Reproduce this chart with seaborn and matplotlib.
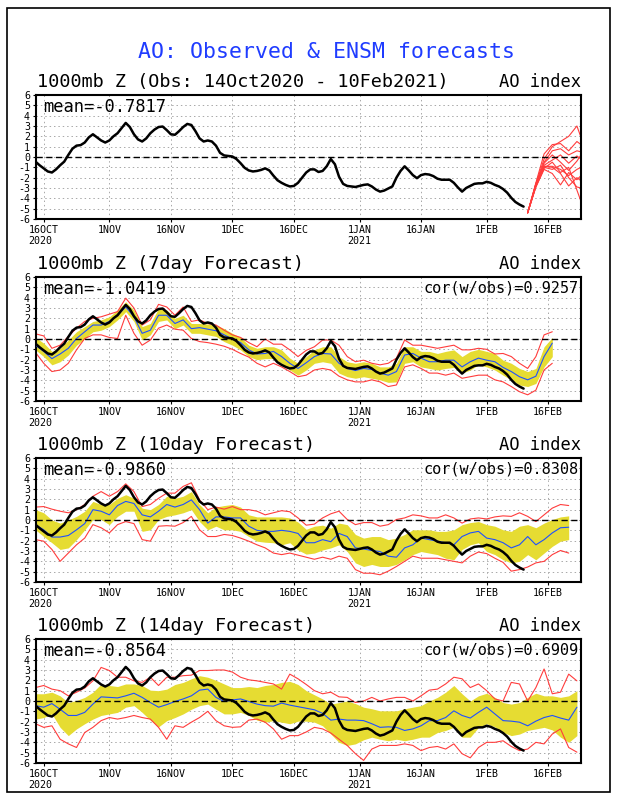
import numpy as np
import pandas as pd
import seaborn as sns
import matplotlib.pyplot as plt
from matplotlib.patches import Rectangle

# day 0 of every series is 14 Oct 2020
start = pd.Timestamp("2020-10-14")

# observed AO index, daily, 14Oct2020 - 10Feb2021
obs = [-0.45, -0.8, -1.1, -1.4, -1.5, -1.2, -0.8, -0.45, 0.2, 0.8,
       1.1, 1.15, 1.4, 1.9, 2.2, 1.9, 1.6, 1.4, 1.6, 2.0,
       2.3, 2.8, 3.3, 2.9, 2.2, 1.7, 1.5, 1.8, 2.3, 2.65,
       2.9, 2.95, 2.6, 2.2, 2.15, 2.5, 2.9, 3.2, 3.1, 2.5,
       1.8, 1.5, 1.6, 1.5, 1.1, 0.4, 0.15, 0.1, 0.05, -0.2,
       -0.6, -1.05, -1.3, -1.4, -1.35, -1.25, -1.1, -1.3, -1.8, -2.25,
       -2.5, -2.7, -2.85, -2.8, -2.5, -2.0, -1.5, -1.2, -1.2, -1.45,
       -1.35, -0.9, -0.2, -0.7, -1.9, -2.6, -2.8, -2.85, -2.9, -2.8,
       -2.7, -2.65, -2.85, -3.15, -3.35, -3.25, -3.05, -2.85, -2.0, -1.35,
       -0.9, -1.3, -1.75, -2.05, -1.75, -1.65, -1.7, -1.85, -2.1, -2.2,
       -2.2, -2.2, -2.5, -2.95, -3.35, -3.0, -2.8, -2.6, -2.55, -2.55,
       -2.4, -2.5, -2.7, -2.85, -3.1, -3.45, -3.95, -4.35, -4.6, -4.8]

# ensemble members after the last observation (top panel)
ens_days = [120, 122, 124, 126, 128, 130, 132, 133]
ens_members = [
    [-5.4, -2.6, -0.2, 1.0, 1.5, 2.0, 3.0, 1.9],
    [-5.4, -2.5, 0.3, 1.2, 1.3, 0.6, 1.5, 1.2],
    [-5.4, -2.7, -0.5, 0.6, 0.8, 0.2, 0.6, 0.5],
    [-5.4, -2.8, -0.8, -0.3, 0.2, -0.6, 0.1, -0.2],
    [-5.4, -2.6, -0.9, -0.9, -1.2, -1.8, -1.2, -1.0],
    [-5.4, -2.9, -1.2, -1.6, -2.7, -1.5, -2.2, -1.8],
    [-5.4, -2.7, -0.9, -1.0, -1.6, -2.8, -2.0, -2.3],
    [-5.4, -2.8, -1.0, -1.2, -0.8, -2.0, -2.9, -3.0],
    [-5.4, -2.9, -1.1, -0.5, -1.5, -1.0, -3.2, -4.3],
    [-5.4, -2.6, -0.6, 0.2, -0.5, -1.3, -0.4, 0.2],
]

# forecasts, every 2 days from 14 Oct: ensemble mean, spread band, min/max
fc7_mean = [-0.6, -1.2, -1.9, -1.45, -0.9, 0.05, 0.7, 1.35, 1.35, 1.7,
            2.3, 3.1, 2.15, 0.55, 0.85, 2.3, 2.3, 1.5, 1.85, 1.0,
            1.1, 0.95, 0.8, 0.4, 0.0, -0.35, -1.05, -1.45, -1.4, -1.2,
            -1.7, -2.35, -2.85, -2.3, -1.7, -1.4, -1.45, -2.35, -2.85, -3.05,
            -2.85, -2.95, -3.3, -3.5, -3.15, -1.55, -1.4, -1.85, -2.2, -2.2,
            -2.05, -2.05, -2.7, -2.2, -1.85, -2.05, -2.2, -2.75, -3.15, -3.65,
            -3.95, -3.6, -1.7, -0.4]
fc7_hi = [0.15, -0.4, -1.2, -0.9, -0.1, 0.7, 1.2, 1.7, 1.85, 2.15,
          2.8, 3.6, 2.8, 1.2, 1.5, 2.95, 2.8, 2.0, 2.3, 1.5,
          1.5, 1.45, 1.35, 1.0, 0.55, 0.15, -0.6, -0.9, -0.75, -0.75,
          -1.05, -1.85, -2.35, -1.7, -1.05, -0.75, -0.75, -1.7, -2.2, -2.35,
          -2.2, -2.35, -2.7, -2.7, -2.35, -0.75, -0.75, -1.2, -1.2, -1.4,
          -1.2, -1.05, -1.7, -1.2, -1.0, -1.2, -1.4, -2.05, -2.35, -2.85,
          -3.15, -2.85, -0.75, 0.15]
fc7_lo = [-1.05, -1.7, -2.5, -2.2, -1.55, -0.6, 0.05, 0.7, 0.85, 1.2,
          1.85, 2.65, 1.7, -0.1, 0.4, 1.7, 1.85, 1.0, 1.35, 0.55,
          0.55, 0.4, 0.25, -0.25, -0.6, -1.05, -1.7, -2.0, -1.9, -1.9,
          -2.35, -3.0, -3.5, -3.0, -2.35, -2.2, -2.35, -3.3, -3.65, -3.8,
          -3.65, -3.8, -3.95, -4.2, -4.15, -2.35, -2.2, -2.7, -2.85, -3.0,
          -2.85, -2.75, -3.3, -3.0, -2.5, -2.7, -3.0, -3.5, -3.95, -4.45,
          -4.6, -4.3, -2.7, -1.7]
fc7_max = [0.5, 0.3, -0.9, -0.6, 0.25, 1.05, 1.7, 2.0, 2.15, 2.4,
           2.65, 3.95, 3.0, 1.35, 1.85, 3.35, 3.1, 2.3, 3.1, 1.7,
           1.85, 1.5, 1.35, 0.85, 0.4, 0.15, -0.35, -0.75, 0.0, -0.5,
           -0.5, -1.05, -1.7, -1.1, -0.75, -0.1, -0.1, -0.6, -1.7, -2.2,
           -2.05, -2.35, -2.5, -2.35, -1.85, -0.1, -0.6, -0.6, -0.75, -0.9,
           -0.75, -0.6, -1.05, -1.05, -0.9, -1.0, -1.45, -1.4, -1.7, -2.35,
           -2.85, -1.7, 0.4, 0.7]
fc7_min = [-1.3, -2.35, -3.15, -3.0, -2.35, -1.05, 0.05, 0.4, 0.4, 0.15,
           0.05, 2.3, 0.55, -0.6, -0.1, 1.05, 1.35, 0.95, 0.85, 0.05,
           -0.25, -0.35, -0.5, -0.7, -1.0, -1.4, -1.75, -2.35, -2.7, -2.35,
           -2.7, -3.15, -3.65, -3.5, -3.0, -2.85, -3.0, -3.6, -3.95, -4.15,
           -4.15, -3.95, -4.15, -4.6, -4.45, -2.7, -2.5, -2.85, -3.3, -3.3,
           -3.5, -3.3, -3.8, -3.65, -3.5, -3.5, -3.95, -4.15, -4.6, -5.1,
           -5.4, -4.95, -3.0, -2.35]

fc10_mean = [-0.45, -0.95, -1.65, -1.65, -1.5, -0.95, -0.35, 1.0, 0.85, 0.5,
             1.4, 1.8, 1.6, 0.5, 0.3, 0.85, 1.5, 1.25, 1.5, 1.95,
             1.0, -0.3, 0.3, 0.3, 0.2, 0.2, -0.6, -1.0, -1.1, -1.1,
             -1.0, -1.1, -1.3, -2.2, -2.2, -1.9, -2.1, -1.3, -1.6, -2.7,
             -2.8, -2.95, -3.05, -3.5, -3.6, -2.7, -2.4, -1.75, -1.9, -2.05,
             -2.2, -2.4, -1.6, -1.25, -1.1, -1.75, -1.9, -2.2, -2.7, -2.4,
             -1.6, -2.4, -1.9, -1.25, -0.75, -0.7]
fc10_hi = [1.0, 0.7, 0.0, -0.3, 0.0, 0.35, 0.85, 1.8, 1.5, 1.5,
           2.1, 2.45, 2.1, 1.15, 1.0, 1.5, 2.3, 2.1, 2.3, 2.75,
           1.5, 0.7, 1.25, 1.4, 1.5, 1.25, 0.5, 0.3, 0.3, 0.3,
           0.3, 0.2, -0.2, -0.9, -0.6, -0.5, -0.8, -0.3, -0.45, -1.4,
           -1.75, -1.6, -1.6, -1.9, -1.75, -1.4, -0.95, -0.95, -0.95, -1.1,
           -1.1, -0.95, -0.45, -0.25, -0.15, -0.45, -0.6, -0.95, -1.1, -0.6,
           -0.45, -0.75, -0.3, 0.05, 0.3, 0.4]
fc10_lo = [-0.95, -1.6, -2.2, -2.85, -2.7, -1.9, -0.95, 0.05, 0.05, -0.45,
           0.35, 0.85, 0.85, -1.1, -0.95, 0.05, 0.35, 0.5, 0.7, 1.0,
           -0.15, -0.95, -0.6, -0.95, -0.95, -1.1, -1.6, -2.05, -2.15, -2.2,
           -2.4, -2.2, -2.9, -3.3, -3.2, -2.9, -2.7, -2.4, -3.05, -4.15,
           -4.5, -4.3, -4.5, -4.5, -4.3, -3.85, -3.35, -3.05, -3.2, -3.35,
           -3.7, -3.85, -2.85, -2.4, -2.2, -3.05, -3.35, -3.85, -4.15, -4.0,
           -3.35, -3.85, -3.2, -2.55, -2.05, -1.9]
fc10_max = [1.25, 1.3, 1.05, 0.85, 0.7, 1.0, 1.5, 2.3, 2.75, 2.3,
            2.75, 3.5, 2.75, 1.3, 1.5, 2.1, 2.6, 2.6, 3.25, 3.6,
            1.95, 1.0, 1.25, 1.05, 1.3, 1.0, 1.0, 0.85, 0.5, 0.7,
            0.9, 0.8, 0.2, -0.5, -0.4, 0.2, 0.6, 0.85, 0.05, -0.45,
            -0.25, -0.25, -0.6, -0.45, 0.05, 0.2, 0.5, 0.4, 0.2, 0.2,
            0.5, 0.2, -0.3, 0.1, 0.2, 0.1, 0.3, 0.4, 0.35, 0.7,
            0.35, -0.15, 0.5, 1.15, 1.5, 1.4]
fc10_min = [-1.9, -2.05, -2.85, -4.0, -3.2, -2.4, -1.75, -0.45, -0.75, -1.25,
            -0.45, -0.15, -0.35, -1.9, -2.05, -0.6, -0.55, -0.6, -0.25, 0.35,
            -0.95, -1.6, -1.6, -1.4, -1.5, -1.75, -2.05, -2.4, -2.7, -3.2,
            -3.35, -3.2, -3.4, -3.6, -3.8, -3.6, -3.8, -3.5, -3.7, -4.8,
            -5.15, -5.15, -5.3, -4.95, -4.5, -4.0, -3.5, -3.7, -3.7, -3.7,
            -3.85, -4.0, -4.15, -3.5, -3.1, -3.25, -3.7, -4.1, -4.95, -4.8,
            -4.55, -4.15, -4.0, -3.35, -2.95, -3.2]

fc14_mean = [-0.45, -0.6, -0.25, -0.8, -1.4, -1.4, -1.1, -0.3, 0.4, 0.35,
             0.3, 0.5, 0.75, 0.35, -0.15, -0.6, -0.35, -0.05, 0.2, 0.5,
             1.05, 1.15, 0.35, -0.05, 0.1, 0.2, -0.05, -0.3, -0.45, -0.5,
             -0.2, -0.4, -0.55, -0.7, -0.85, -1.2, -1.85, -1.75, -1.85, -1.85,
             -1.9, -2.2, -2.55, -2.5, -2.55, -2.85, -2.7, -2.4, -1.9, -1.9,
             -1.6, -0.95, -1.4, -1.65, -1.1, -0.6, -1.25, -1.9, -1.95, -2.05,
             -2.4, -1.95, -1.6, -1.4, -1.65, -1.85, -0.6]
fc14_hi = [0.7, 0.7, 0.85, 0.5, -0.15, 0.05, 0.35, 0.85, 1.65, 1.5,
           1.4, 1.65, 1.65, 1.5, 1.05, 1.0, 1.15, 1.6, 1.8, 2.15,
           2.45, 2.3, 2.0, 1.65, 1.3, 1.3, 1.4, 1.3, 1.5, 1.6,
           1.8, 1.9, 1.6, 1.0, 0.6, 0.2, -0.3, -0.15, 0.0, -0.25,
           -0.6, -0.75, -0.95, -0.95, -0.95, -0.75, -0.6, -0.45, 0.0, 0.35,
           0.85, 1.5, 0.7, 0.0, 0.5, 0.75, 0.35, -0.15, -0.3, -0.15,
           0.35, 0.75, 0.5, 0.5, 0.35, 0.5, 1.0]
fc14_lo = [-1.75, -1.6, -1.25, -2.55, -3.35, -2.7, -2.2, -1.75, -1.4, -1.25,
           -1.1, -0.6, -0.45, -1.1, -1.85, -2.5, -1.9, -1.6, -1.25, -0.8,
           -0.45, -0.3, -0.8, -1.25, -1.25, -1.1, -1.4, -1.85, -2.05, -1.9,
           -2.05, -2.2, -1.95, -1.95, -2.05, -2.4, -3.2, -4.0, -4.3, -4.15,
           -3.75, -3.5, -3.7, -3.85, -3.7, -3.85, -3.7, -3.5, -3.5, -3.05,
           -2.85, -2.55, -3.5, -3.5, -2.55, -2.2, -2.5, -3.05, -3.35, -3.2,
           -2.85, -2.7, -2.55, -2.8, -3.5, -4.0, -3.35]
fc14_max = [1.3, 1.5, 1.15, 1.0, 0.5, 0.85, 1.25, 1.95, 3.25, 2.95,
            2.3, 2.3, 1.95, 1.8, 2.3, 1.5, 2.3, 2.3, 2.45, 2.5,
            2.95, 2.95, 3.0, 3.0, 2.8, 2.3, 2.05, 1.95, 1.8, 1.65,
            1.15, 2.6, 2.15, 1.6, 1.0, 0.7, 0.85, 0.4, 0.35, -0.15,
            0.0, 0.35, 0.0, 0.2, 0.35, 0.35, 0.0, 0.5, 1.05, 1.15,
            1.65, 2.3, 2.15, 1.3, 1.65, 1.0, 0.2, 0.0, 1.8, 1.65,
            0.0, 1.3, 3.1, 0.7, 0.85, 2.6, 1.95]
fc14_min = [-2.2, -2.55, -2.4, -3.7, -4.15, -4.5, -3.05, -2.55, -1.9, -1.6,
            -1.75, -1.6, -1.4, -1.6, -1.75, -2.55, -3.7, -2.4, -2.55, -2.05,
            -1.6, -1.0, -1.9, -2.4, -2.55, -2.5, -1.85, -1.75, -2.05, -2.7,
            -3.7, -3.35, -3.35, -3.0, -2.55, -2.7, -3.1, -3.7, -4.3, -5.1,
            -5.75, -4.65, -4.3, -4.3, -4.3, -4.15, -4.3, -4.8, -4.5, -4.4,
            -4.65, -4.15, -5.1, -5.5, -4.5, -4.0, -4.0, -3.85, -4.4, -4.8,
            -4.65, -4.0, -4.15, -3.2, -2.7, -4.5, -4.95]

panel_titles = ["1000mb Z (Obs: 14Oct2020 - 10Feb2021)", "1000mb Z (7day Forecast)",
                "1000mb Z (10day Forecast)", "1000mb Z (14day Forecast)"]
mean_labels = ["mean=-0.7817", "mean=-1.0419", "mean=-0.9860", "mean=-0.8564"]
cor_labels = ["", "cor(w/obs)=0.9257", "cor(w/obs)=0.8308", "cor(w/obs)=0.6909"]

tick_dates = pd.to_datetime(["2020-10-16", "2020-11-01", "2020-11-16", "2020-12-01", "2020-12-16",
                             "2021-01-01", "2021-01-16", "2021-02-01", "2021-02-16"])
tick_labels = ["16OCT\n2020", "1NOV", "16NOV", "1DEC", "16DEC", "1JAN\n2021", "16JAN", "1FEB", "16FEB"]
y_ticks = list(range(-6, 7))

forecasts = [None,
             (fc7_mean, fc7_lo, fc7_hi, fc7_min, fc7_max),
             (fc10_mean, fc10_lo, fc10_hi, fc10_min, fc10_max),
             (fc14_mean, fc14_lo, fc14_hi, fc14_min, fc14_max)]


def to_dates(days):
    return start + pd.to_timedelta(np.asarray(days), unit="D")


YELLOW = "#e6dc32"
RED = "#ff3c3c"
BLUE = "#1e50ff"

sns.set_theme(style="white")
plt.rcParams["font.family"] = ["DejaVu Sans Mono", "DejaVu Sans"]
plt.rcParams["axes.unicode_minus"] = False
for k in ["text.color", "xtick.color", "ytick.color", "axes.labelcolor"]:
    plt.rcParams[k] = "black"

W, H = 618, 800
fig = plt.figure(figsize=(W / 100, H / 100), dpi=100)
fig.add_artist(Rectangle((7 / W, 8 / H), 603 / W, 784 / H, transform=fig.transFigure,
                         fill=False, lw=1.2, ec="black"))
fig.text(327 / W, 1 - 52 / H, "AO: Observed & ENSM forecasts", color="#1f3cff",
         fontsize=15.5, ha="center", va="center")

obs_dates = to_dates(range(len(obs)))
tops = [95, 277, 458, 639]
for i, top in enumerate(tops):
    ax = fig.add_axes([35.5 / W, 1 - (top + 124) / H, 545.5 / W, 124 / H])

    fc = forecasts[i]
    if fc is None:
        # spaghetti of ensemble members
        ens = pd.DataFrame([(m, d, v) for m, vals in enumerate(ens_members)
                            for d, v in zip(ens_days, vals)], columns=["member", "day", "ao"])
        ens["date"] = to_dates(ens["day"])
        sns.lineplot(data=ens, x="date", y="ao", units="member", estimator=None,
                     color=RED, lw=0.8, ax=ax)
    else:
        mean, lo, hi, mn, mx = fc
        d = to_dates(np.arange(len(mean)) * 2)
        ax.fill_between(d, lo, hi, color=YELLOW, lw=0, zorder=1)
        sns.lineplot(x=d, y=mx, color=RED, lw=0.8, ax=ax, zorder=2)
        sns.lineplot(x=d, y=mn, color=RED, lw=0.8, ax=ax, zorder=2)
        sns.lineplot(x=d, y=mean, color=BLUE, lw=0.8, ax=ax, zorder=3)

    ax.axhline(0, color="black", lw=1.0, ls=(0, (4.5, 2.5)), zorder=4)
    sns.lineplot(x=obs_dates, y=obs, color="black", lw=1.8, ax=ax, zorder=5)

    ax.set_xlim(start, start + pd.Timedelta(days=133))
    ax.set_ylim(-6, 6)
    ax.set_yticks(y_ticks)
    ax.set_yticklabels([str(v) for v in y_ticks])
    ax.set_xticks(tick_dates)
    ax.set_xticklabels(tick_labels, multialignment="left")
    ax.set_xlabel("")
    ax.set_ylabel("")
    ax.tick_params(axis="both", labelsize=7.2, length=2.5, width=0.8, pad=1.5,
                   bottom=True, left=True, direction="out")
    ax.grid(True, color="#a8a8a8", lw=0.7, ls=(0, (1.5, 3)))
    ax.set_axisbelow(True)
    for s in ax.spines.values():
        s.set_color("black")
        s.set_linewidth(1.5)

    ax.text(0.003, 1 + 4 / 124, panel_titles[i], transform=ax.transAxes,
            fontsize=13.3, ha="left", va="bottom")
    ax.text(1.0, 1 + 4 / 124, "AO index", transform=ax.transAxes,
            fontsize=12.3, ha="right", va="bottom")
    ax.text(0.0137, 0.975, mean_labels[i], transform=ax.transAxes,
            fontsize=12.3, ha="left", va="top", zorder=6)
    if cor_labels[i]:
        ax.text(0.996, 0.975, cor_labels[i], transform=ax.transAxes,
                fontsize=11, ha="right", va="top", zorder=6)

fig.savefig("out.png", dpi=100)
